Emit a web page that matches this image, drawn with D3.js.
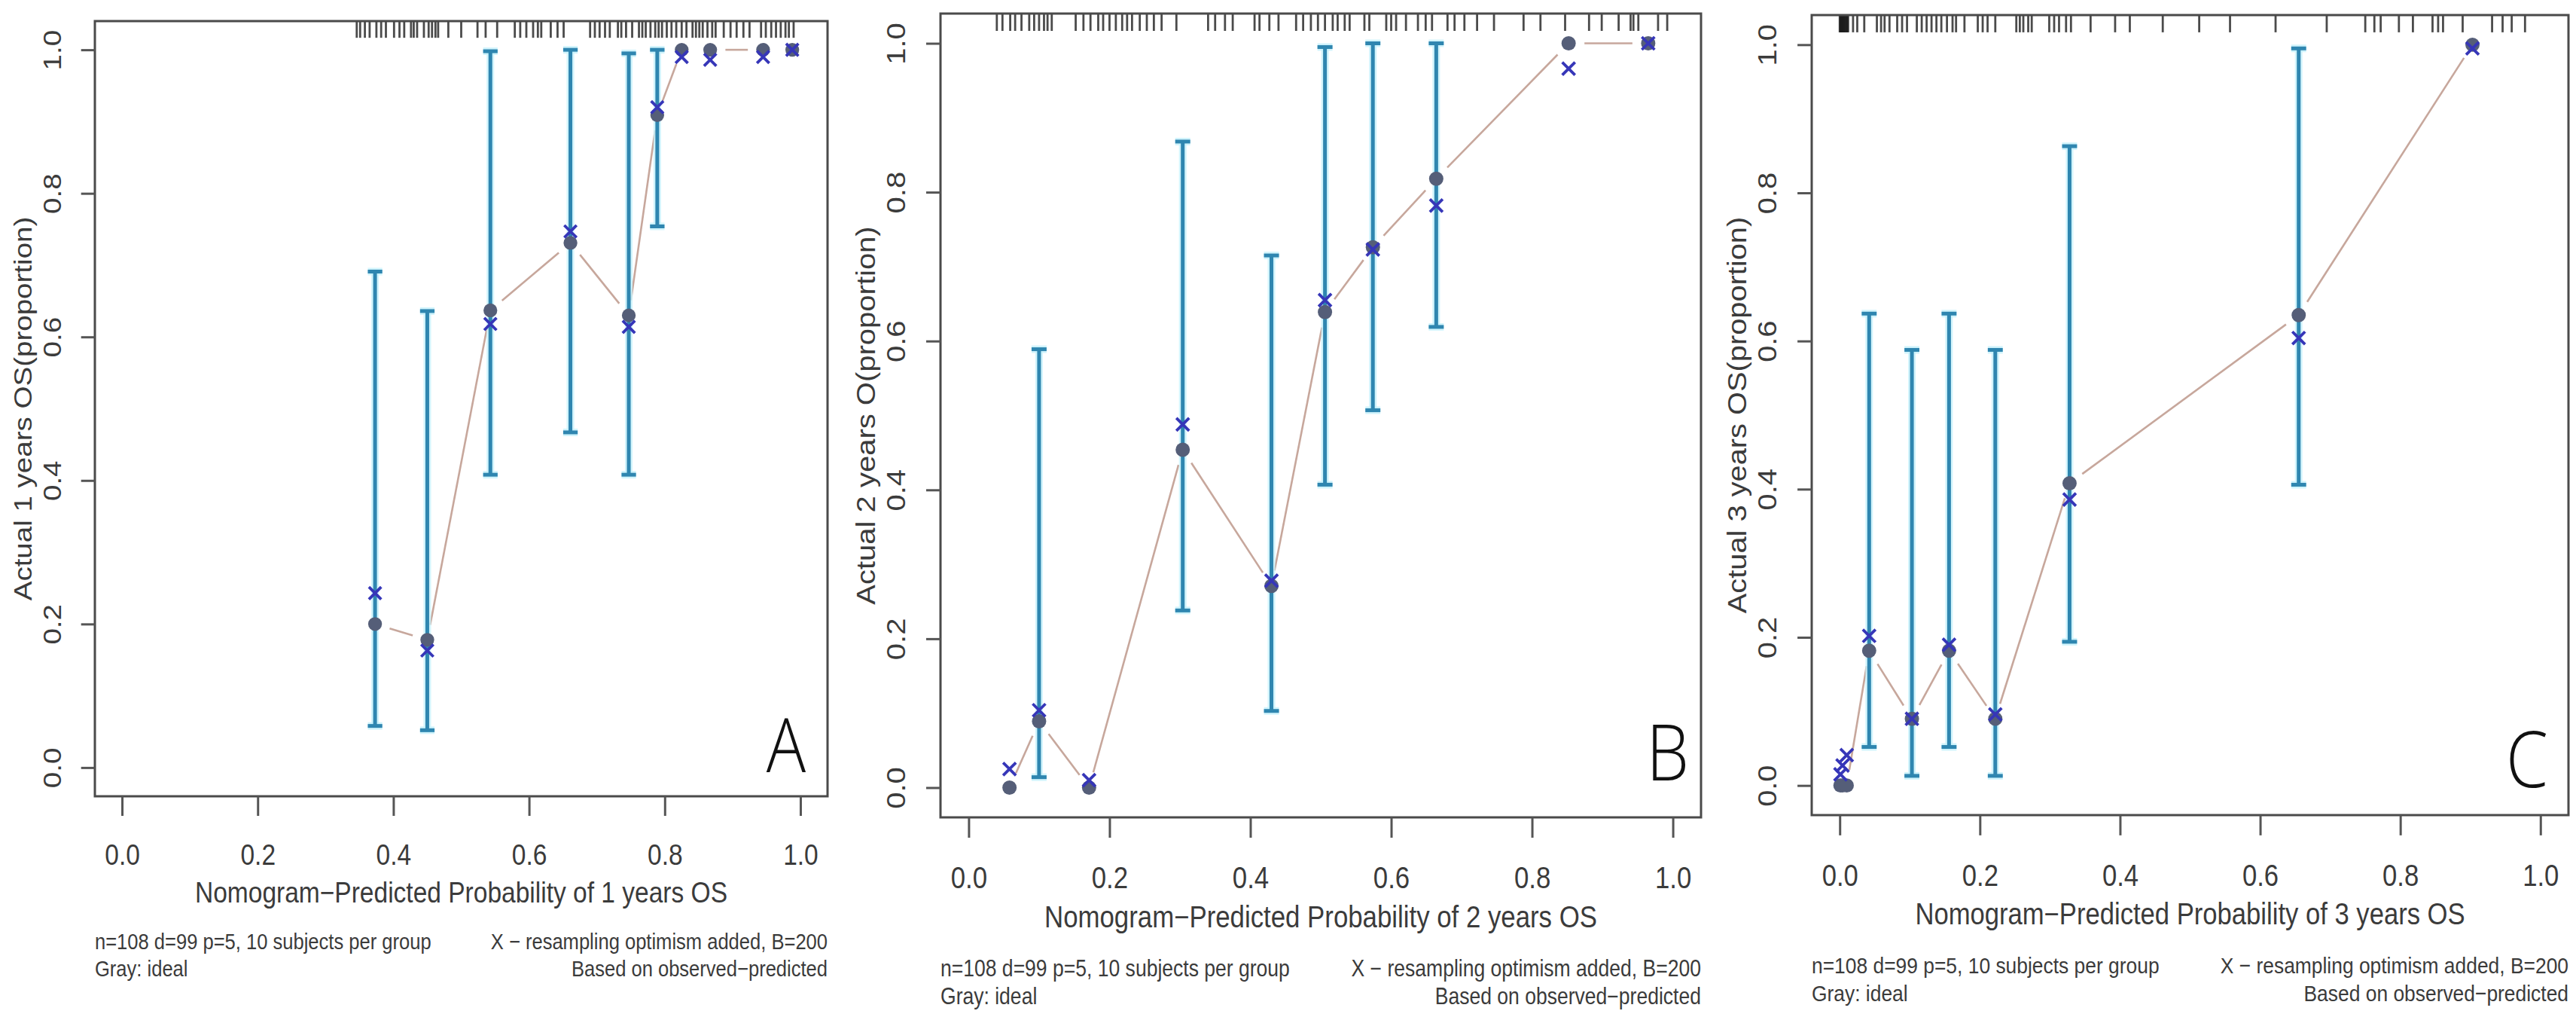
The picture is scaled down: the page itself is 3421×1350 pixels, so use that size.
<!DOCTYPE html>
<html>
<head>
<meta charset="utf-8">
<script src="https://cdn.jsdelivr.net/npm/d3@7"></script>
<style>
  html, body { margin: 0; padding: 0; background: #fff; }
  svg { display: block; background: #fff; }
  .chart text { font-family: 'Liberation Sans', Arial, Helvetica, sans-serif; fill: #3b3b3b; }
  .chart text.letter { font-family: 'Open Sans', 'Noto Sans', sans-serif; font-weight: 300; fill: #111; }
</style>
</head>
<body>
<svg class="chart" width="3421" height="1350"></svg>
<script>
const axisTicks = [0, 0.2, 0.4, 0.6, 0.8, 1.0];

const letters = ['A', 'B', 'C'];
const xTitles = [
  'Nomogram\u2212Predicted Probability of 1 years OS',
  'Nomogram\u2212Predicted Probability of 2 years OS',
  'Nomogram\u2212Predicted Probability of 3 years OS'
];
const yTitles = [
  'Actual 1 years OS(proportion)',
  'Actual 2 years O(proportion)',
  'Actual 3 years OS(proportion)'
];
const noteLeft = ['n=108 d=99 p=5, 10 subjects per group', 'Gray: ideal'];
const noteRight = ['X \u2212 resampling optimism added, B=200', 'Based on observed\u2212predicted'];

// panel A, 1 year
const predA = [0.373, 0.450, 0.543, 0.661, 0.747, 0.789, 0.825, 0.867, 0.945, 0.988];
const obsA = [0.200, 0.178, 0.637, 0.731, 0.630, 0.909, 1.0, 1.0, 1.0, 1.0];
const corrA = [0.243, 0.163, 0.618, 0.747, 0.614, 0.920, 0.990, 0.986, 0.990, 1.0];
const loA = [0.058, 0.052, 0.408, 0.467, 0.408, 0.754, null, null, null, null];
const hiA = [0.691, 0.636, 0.998, 1.0, 0.995, 1.0, null, null, null, null];
const rugA = [0.346, 0.351, 0.358, 0.365, 0.375, 0.382, 0.389, 0.401, 0.409, 0.416,
  0.426, 0.430, 0.435, 0.445, 0.452, 0.457, 0.462, 0.466, 0.481, 0.500, 0.524, 0.536,
  0.553, 0.579, 0.587, 0.596, 0.606, 0.613, 0.618, 0.632, 0.642, 0.651, 0.690, 0.697,
  0.704, 0.712, 0.719, 0.731, 0.736, 0.743, 0.752, 0.762, 0.767, 0.772, 0.779, 0.786,
  0.791, 0.796, 0.803, 0.810, 0.817, 0.825, 0.832, 0.841, 0.846, 0.851, 0.856, 0.863,
  0.870, 0.875, 0.887, 0.897, 0.906, 0.916, 0.925, 0.942, 0.949, 0.957, 0.964, 0.971,
  0.978, 0.983, 0.990];

// panel B, 2 years
const predB = [0.058, 0.100, 0.171, 0.304, 0.430, 0.506, 0.574, 0.664, 0.852, 0.965];
const obsB = [0.0, 0.089, 0.0, 0.454, 0.271, 0.639, 0.726, 0.818, 1.0, 1.0];
const corrB = [0.025, 0.104, 0.010, 0.488, 0.278, 0.655, 0.723, 0.782, 0.966, 1.0];
const loB = [null, 0.014, null, 0.238, 0.103, 0.407, 0.507, 0.619, null, null];
const hiB = [null, 0.589, null, 0.868, 0.715, 0.995, 1.0, 1.0, null, null];
const rugB = [0.040, 0.048, 0.059, 0.066, 0.075, 0.086, 0.093, 0.100, 0.107, 0.112,
  0.118, 0.152, 0.163, 0.173, 0.184, 0.191, 0.200, 0.209, 0.218, 0.225, 0.232, 0.243,
  0.253, 0.263, 0.274, 0.295, 0.340, 0.350, 0.364, 0.375, 0.406, 0.413, 0.427, 0.440,
  0.465, 0.475, 0.486, 0.496, 0.506, 0.517, 0.524, 0.534, 0.541, 0.562, 0.569, 0.593,
  0.600, 0.607, 0.621, 0.638, 0.649, 0.658, 0.680, 0.690, 0.704, 0.722, 0.746, 0.788,
  0.812, 0.847, 0.881, 0.899, 0.923, 0.940, 0.944, 0.951, 0.979, 0.992];

// panel C, 3 years
const predC = [0.001, 0.004, 0.010, 0.042, 0.103, 0.156, 0.222, 0.328, 0.655, 0.903];
const obsC = [0.0, 0.0, 0.0, 0.182, 0.090, 0.182, 0.090, 0.408, 0.635, 1.0];
const corrC = [0.015, 0.027, 0.041, 0.202, 0.090, 0.190, 0.096, 0.386, 0.604, 0.995];
const loC = [null, null, null, 0.052, 0.013, 0.052, 0.013, 0.194, 0.406, null];
const hiC = [null, null, null, 0.637, 0.588, 0.637, 0.588, 0.863, 0.995, null];
const rugC = [0.000, 0.001, 0.001, 0.002, 0.002, 0.003, 0.003, 0.004, 0.004, 0.005,
  0.005, 0.006, 0.006, 0.007, 0.008, 0.009, 0.010, 0.011, 0.012, 0.019, 0.025, 0.035,
  0.053, 0.059, 0.064, 0.071, 0.082, 0.089, 0.096, 0.110, 0.117, 0.124, 0.131, 0.138,
  0.145, 0.153, 0.161, 0.166, 0.178, 0.197, 0.204, 0.211, 0.222, 0.252, 0.257, 0.262,
  0.269, 0.274, 0.299, 0.306, 0.313, 0.323, 0.330, 0.358, 0.393, 0.414, 0.461, 0.513,
  0.557, 0.622, 0.695, 0.750, 0.763, 0.772, 0.798, 0.818, 0.846, 0.854, 0.861, 0.889,
  0.931, 0.946, 0.959, 0.978];

const preds = [predA, predB, predC];
const observed = [obsA, obsB, obsC];
const corrected = [corrA, corrB, corrC];
const lows = [loA, loB, loC];
const highs = [hiA, hiB, hiC];
const rugs = [rugA, rugB, rugC];

// plot regions of the three panels (pixels)
const boxes = [
  { left: 126, right: 1099, top: 28, bottom: 1057, letterDx: -29, letterDy: -32 },
  { left: 1249, right: 2259, top: 18, bottom: 1085, letterDx: -16, letterDy: -49 },
  { left: 2406, right: 3411, top: 20, bottom: 1082, letterDx: -27, letterDy: -37 }
];

const squeeze = 0.87; // the figure is narrower than it is tall
const svg = d3.select('svg.chart');
const fmt = d3.format('.1f');

function hText(g, str, x, y, size, anchor) {
  return g.append('text')
    .attr('transform', `translate(${x},${y}) scale(${squeeze},1)`)
    .attr('text-anchor', anchor)
    .attr('font-size', size)
    .text(str);
}

function drawPanel(i) {
  const { left, right, top, bottom, letterDx, letterDy } = boxes[i];
  const k = (right - left) / 1010;
  const x = d3.scaleLinear().domain([-0.04, 1.04]).range([left, right]);
  const y = d3.scaleLinear().domain([-0.04, 1.04]).range([bottom, top]);
  const g = svg.append('g').attr('class', `panel panel-${letters[i]}`);

  const rows = preds[i].map((p, j) => ({
    pred: p,
    obs: observed[i][j],
    corr: corrected[i][j],
    lo: lows[i][j],
    hi: highs[i][j]
  }));

  // rug of predicted probabilities along the top
  g.append('g')
    .selectAll('line')
    .data(rugs[i])
    .join('line')
    .attr('x1', d => x(d)).attr('x2', d => x(d))
    .attr('y1', top).attr('y2', top + 23 * k)
    .attr('stroke', '#1e1e1e')
    .attr('stroke-width', 2.8)
    .attr('stroke-opacity', 0.8);

  // observed line, type "b" (gaps around the points)
  const gap = 21 * k;
  const pts = rows.map(d => [x(d.pred), y(d.obs)]);
  const segs = d3.pairs(pts)
    .map(([a, b]) => {
      const dx = b[0] - a[0];
      const dy = b[1] - a[1];
      const len = Math.hypot(dx, dy);
      if (len <= 2 * gap) return null;
      const ux = dx / len;
      const uy = dy / len;
      return [a[0] + ux * gap, a[1] + uy * gap, b[0] - ux * gap, b[1] - uy * gap];
    })
    .filter(Boolean);

  g.append('g')
    .selectAll('line')
    .data(segs)
    .join('line')
    .attr('x1', d => d[0]).attr('y1', d => d[1])
    .attr('x2', d => d[2]).attr('y2', d => d[3])
    .attr('stroke', '#c7a79c')
    .attr('stroke-width', 2.6);

  // error bars
  const bars = rows.filter(d => d.lo !== null);
  const capW = 10 * k;
  const barG = g.append('g').attr('class', 'errbars');
  [['#c6f1fb', 10, 0.8], ['#2f86b0', 5, 1]].forEach(([col, w, op]) => {
    const layer = barG.append('g')
      .attr('stroke', col)
      .attr('stroke-width', w)
      .attr('stroke-opacity', op);
    layer.selectAll('line.v')
      .data(bars)
      .join('line')
      .attr('class', 'v')
      .attr('x1', d => x(d.pred)).attr('x2', d => x(d.pred))
      .attr('y1', d => y(d.lo)).attr('y2', d => y(d.hi));
    layer.selectAll('line.cap')
      .data(bars.flatMap(d => [[d.pred, d.lo], [d.pred, d.hi]]))
      .join('line')
      .attr('class', 'cap')
      .attr('x1', d => x(d[0]) - capW).attr('x2', d => x(d[0]) + capW)
      .attr('y1', d => y(d[1])).attr('y2', d => y(d[1]));
  });

  // observed points
  g.append('g')
    .selectAll('circle')
    .data(rows)
    .join('circle')
    .attr('cx', d => x(d.pred))
    .attr('cy', d => y(d.obs))
    .attr('r', 9.5 * k)
    .attr('fill', '#555e78');

  // bias-corrected estimates
  const s = 8.5 * k;
  g.append('g')
    .selectAll('path')
    .data(rows)
    .join('path')
    .attr('transform', d => `translate(${x(d.pred)},${y(d.corr)})`)
    .attr('d', `M${-s},${-s}L${s},${s}M${-s},${s}L${s},${-s}`)
    .attr('fill', 'none')
    .attr('stroke', '#3636b8')
    .attr('stroke-width', 3.8);

  // frame
  g.append('rect')
    .attr('x', left).attr('y', top)
    .attr('width', right - left).attr('height', bottom - top)
    .attr('fill', 'none')
    .attr('stroke', '#4a4a4a')
    .attr('stroke-width', 3);

  // axes
  const axisX = d3.axisBottom(x)
    .tickValues(axisTicks)
    .tickFormat(fmt)
    .tickSize(27 * k)
    .tickPadding(39 * k);

  const gx = g.append('g')
    .attr('transform', `translate(0,${bottom})`)
    .call(axisX);
  gx.select('.domain').remove();
  gx.attr('font-size', 40 * k).attr('font-family', null).style('color', '#555');
  gx.selectAll('.tick line').attr('stroke-width', 3);
  gx.selectAll('.tick text').attr('transform', `scale(${squeeze},1)`);

  const axisY = d3.axisLeft(y)
    .tickValues(axisTicks)
    .tickFormat(fmt)
    .tickSize(19 * k);

  const gy = g.append('g')
    .attr('transform', `translate(${left},0)`)
    .call(axisY);
  gy.select('.domain').remove();
  gy.attr('font-size', 40 * k).attr('font-family', null).style('color', '#555');
  gy.selectAll('.tick line').attr('stroke-width', 3);
  gy.selectAll('.tick text')
    .attr('x', 0)
    .attr('dy', 0)
    .attr('text-anchor', 'middle')
    .attr('transform', `translate(${-47 * k},0) rotate(-90) scale(1,${squeeze})`);

  // titles
  hText(g, xTitles[i], (x(0) + x(1)) / 2, bottom + 146 * k, 40 * k, 'middle');

  g.append('text')
    .attr('transform', `translate(${left - 87 * k},${(top + bottom) / 2}) rotate(-90) scale(1,${squeeze})`)
    .attr('text-anchor', 'middle')
    .attr('font-size', 40 * k)
    .text(yTitles[i]);

  // footnotes
  noteLeft.forEach((t, j) => hText(g, t, left, bottom + (211 + 37 * j) * k, 30.5 * k, 'start'));
  noteRight.forEach((t, j) => hText(g, t, right, bottom + (211 + 37 * j) * k, 30.5 * k, 'end'));

  // panel letter
  hText(g, letters[i], right + letterDx, bottom + letterDy, 104 * k, 'end')
    .attr('class', 'letter');
}

letters.forEach((_, i) => drawPanel(i));
</script>
</body>
</html>
